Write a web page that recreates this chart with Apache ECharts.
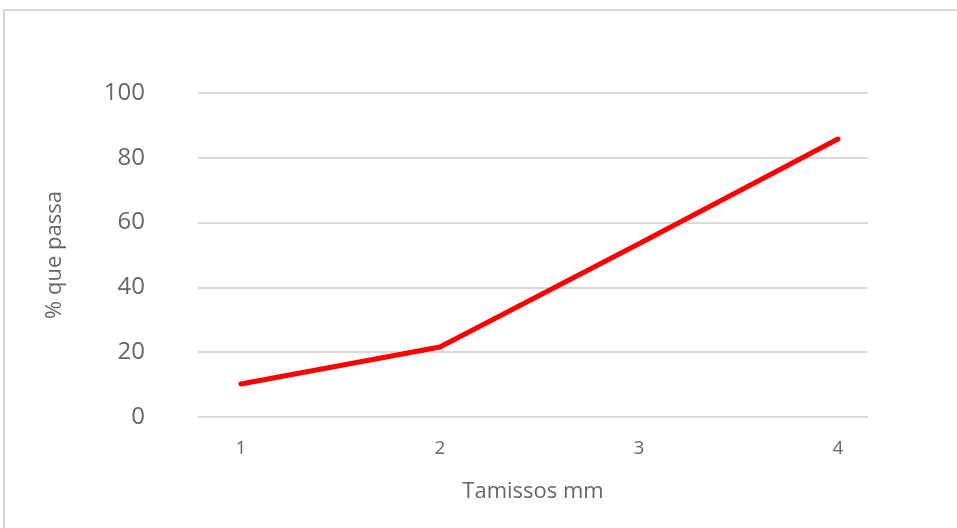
<!DOCTYPE html>
<html>
<head>
<meta charset="utf-8">
<script src="https://cdn.jsdelivr.net/npm/echarts@6/dist/echarts.min.js"></script>
<style>
  html, body { margin: 0; padding: 0; background: #fff; }
  #chart { width: 957px; height: 528px; }
</style>
</head>
<body>
<div id="chart"></div>
<script>
// Sieve sizes and cumulative passing percentage
const sieves = [1, 2, 3, 4];
const passing = [10.2, 21.6, 53.5, 85.8];
const yTicks = [0, 20, 40, 60, 80, 100];

const chart = echarts.init(document.getElementById('chart'), null, { renderer: 'canvas' });

const textColor = '#666666';
const gridColor = '#d9d9d9';

chart.setOption({
  animation: false,
  backgroundColor: '#ffffff',
  graphic: [{
    type: 'rect',
    shape: { x: 4, y: 10, width: 1000, height: 600 },
    style: { fill: 'none', stroke: gridColor, lineWidth: 2 },
    silent: true
  }],
  grid: { left: 198, right: 89, top: 93, bottom: 111 },
  xAxis: {
    type: 'value',
    min: 0.784,
    max: 4.151,
    name: 'Tamissos mm',
    nameLocation: 'middle',
    nameGap: 64,
    nameTextStyle: { color: textColor, fontSize: 22, fontFamily: 'Open Sans' },
    axisLine: { show: false },
    axisTick: { show: false },
    splitLine: { show: false },
    axisLabel: {
      customValues: sieves,
      color: textColor,
      fontSize: 19,
      fontFamily: 'Open Sans',
      margin: 22
    }
  },
  yAxis: {
    type: 'value',
    min: 0,
    max: 100,
    interval: 20,
    name: '% que passa',
    nameLocation: 'middle',
    nameGap: 132,
    nameRotate: 90,
    nameTextStyle: { color: textColor, fontSize: 22, fontFamily: 'Open Sans' },
    axisLine: { show: false },
    axisTick: { show: false },
    axisLabel: {
      customValues: yTicks,
      color: textColor,
      fontSize: 24,
      fontFamily: 'Open Sans',
      margin: 53
    },
    splitLine: { lineStyle: { color: gridColor, width: 2 } }
  },
  series: [{
    type: 'line',
    data: sieves.map((s, i) => [s, passing[i]]),
    showSymbol: false,
    lineStyle: { color: '#ff0000', width: 5, cap: 'round', join: 'round' },
    itemStyle: { color: '#ff0000' }
  }]
});
</script>
</body>
</html>
